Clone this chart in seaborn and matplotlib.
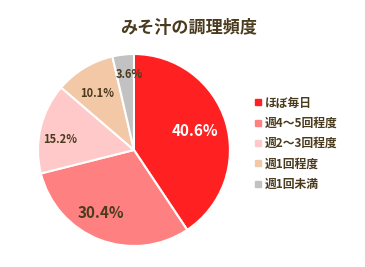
import matplotlib
matplotlib.use("Agg")
import matplotlib.pyplot as plt
import seaborn as sns
import numpy as np
from matplotlib.lines import Line2D

sns.set_style("white")
plt.rcParams['font.family'] = ['Noto Sans CJK JP', 'DejaVu Sans']

title = "みそ汁の調理頻度"
categories = ["ほぼ毎日", "週4～5回程度", "週2～3回程度", "週1回程度", "週1回未満"]
values = [40.6, 30.4, 15.2, 10.1, 3.6]
colors = ["#FF2121", "#FF8080", "#FFC9C9", "#F3C8A6", "#C2C2C2"]
label_colors = ["white", "#4A3B1E", "#4A3B1E", "#4A3B1E", "#4A3B1E"]
label_sizes = [11, 11, 8, 8, 8]
label_radius = [0.667, 0.743, 0.779, 0.707, 0.788]
label_angle_shift = [0.8, -6.3, 4.9, 2.0, -3.0]

fig = plt.figure(figsize=(3.65, 2.67), dpi=100)
fig.patch.set_facecolor("white")
ax = fig.add_axes([0.104, 0.0787, 0.526, 0.719])

wedges, _ = ax.pie(values, colors=colors, startangle=90, counterclock=False,
                   wedgeprops=dict(edgecolor="white", linewidth=1.5))
for w, v, c, s, r, da in zip(wedges, values, label_colors, label_sizes,
                             label_radius, label_angle_shift):
    ang = np.deg2rad((w.theta1 + w.theta2) / 2 + da)
    ax.text(r * np.cos(ang), r * np.sin(ang), f"{v:.1f}%", ha="center", va="center",
            color=c, fontsize=s, fontweight="bold")
ax.set_xlim(-1.0, 1.0)
ax.set_ylim(-1.0, 1.0)
ax.set_aspect("equal")
ax.axis("off")

fig.text(188.5 / 365, 1 - 28 / 267, title, ha="center", va="center",
         fontsize=12.3, fontweight="bold", color="#4A3B1E")

handles = [Line2D([0], [0], marker="s", linestyle="none", markersize=5,
                  markerfacecolor=c, markeredgecolor=c) for c in colors]
leg = fig.legend(handles, categories, loc="upper left",
                 bbox_to_anchor=(253.3 / 365, 1 - 96.5 / 267), frameon=False,
                 prop=dict(size=8.5, weight="bold"), labelspacing=0.62,
                 handlelength=0.8, handletextpad=0.2, borderpad=0, borderaxespad=0)
for t in leg.get_texts():
    t.set_color("#4A3B1E")

fig.savefig("out.png", dpi=100, facecolor="white")
